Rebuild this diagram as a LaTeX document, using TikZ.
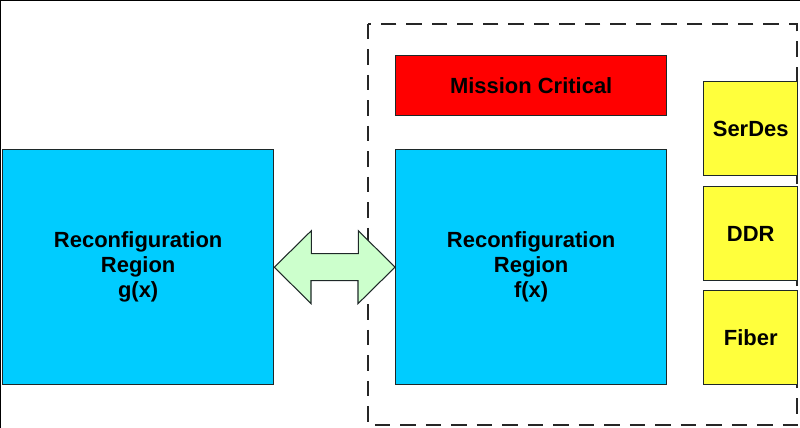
\documentclass[tikz,border=0pt]{standalone}
\usepackage{fontspec}
\setmainfont{Liberation Sans}
\definecolor{regblue}{RGB}{0,204,255}
\definecolor{critred}{RGB}{255,0,0}
\definecolor{ioyellow}{RGB}{255,255,60}
\definecolor{arrowgreen}{RGB}{204,255,204}
\definecolor{edge}{RGB}{30,40,40}
\begin{document}
\begin{tikzpicture}[x=0.02cm,y=-0.02cm,
  box/.style={draw=edge,line width=0.8pt,anchor=north west,inner sep=0pt,
    align=center,font=\fontsize{12.5}{14.2}\selectfont\bfseries},
  region/.style={box,fill=regblue,minimum width=5.42cm,minimum height=4.70cm},
  critical/.style={box,fill=critred,minimum width=5.42cm,minimum height=1.2cm},
  iobox/.style={box,fill=ioyellow,minimum width=1.88cm,minimum height=1.88cm},
  dashbox/.style={draw=black!85,line width=1.5pt,dash pattern=on 0.31cm off 0.2cm},
  bidir/.style={draw=edge,line width=0.6pt,fill=arrowgreen,line join=miter}]
\useasboundingbox (0,0) rectangle (800,428);
\fill[white] (0,0) rectangle (800,428);
\draw[black,line width=1.2pt] (0,428) -- (0,0) -- (800,0);
\draw[dashbox] (368,24) rectangle (797,425);
\node[region] (g) at (2,149) {Reconfiguration\\Region\\g(x)};
\node[region] (f) at (395,149) {Reconfiguration\\Region\\f(x)};
\node[critical] (mc) at (395,55) {Mission Critical};
\node[iobox] (serdes) at (703,81) {SerDes};
\node[iobox] (ddr) at (703,186) {DDR};
\node[iobox] (fiber) at (703,290) {Fiber};
\draw[bidir] (g.east) -- ++(37,-36.5) -- ++(0,23) -- ++(47,0) -- ++(0,-23)
  -- (f.west) -- ++(-37,36.5) -- ++(0,-23) -- ++(-47,0) -- ++(0,23) -- cycle;
\end{tikzpicture}
\end{document}
